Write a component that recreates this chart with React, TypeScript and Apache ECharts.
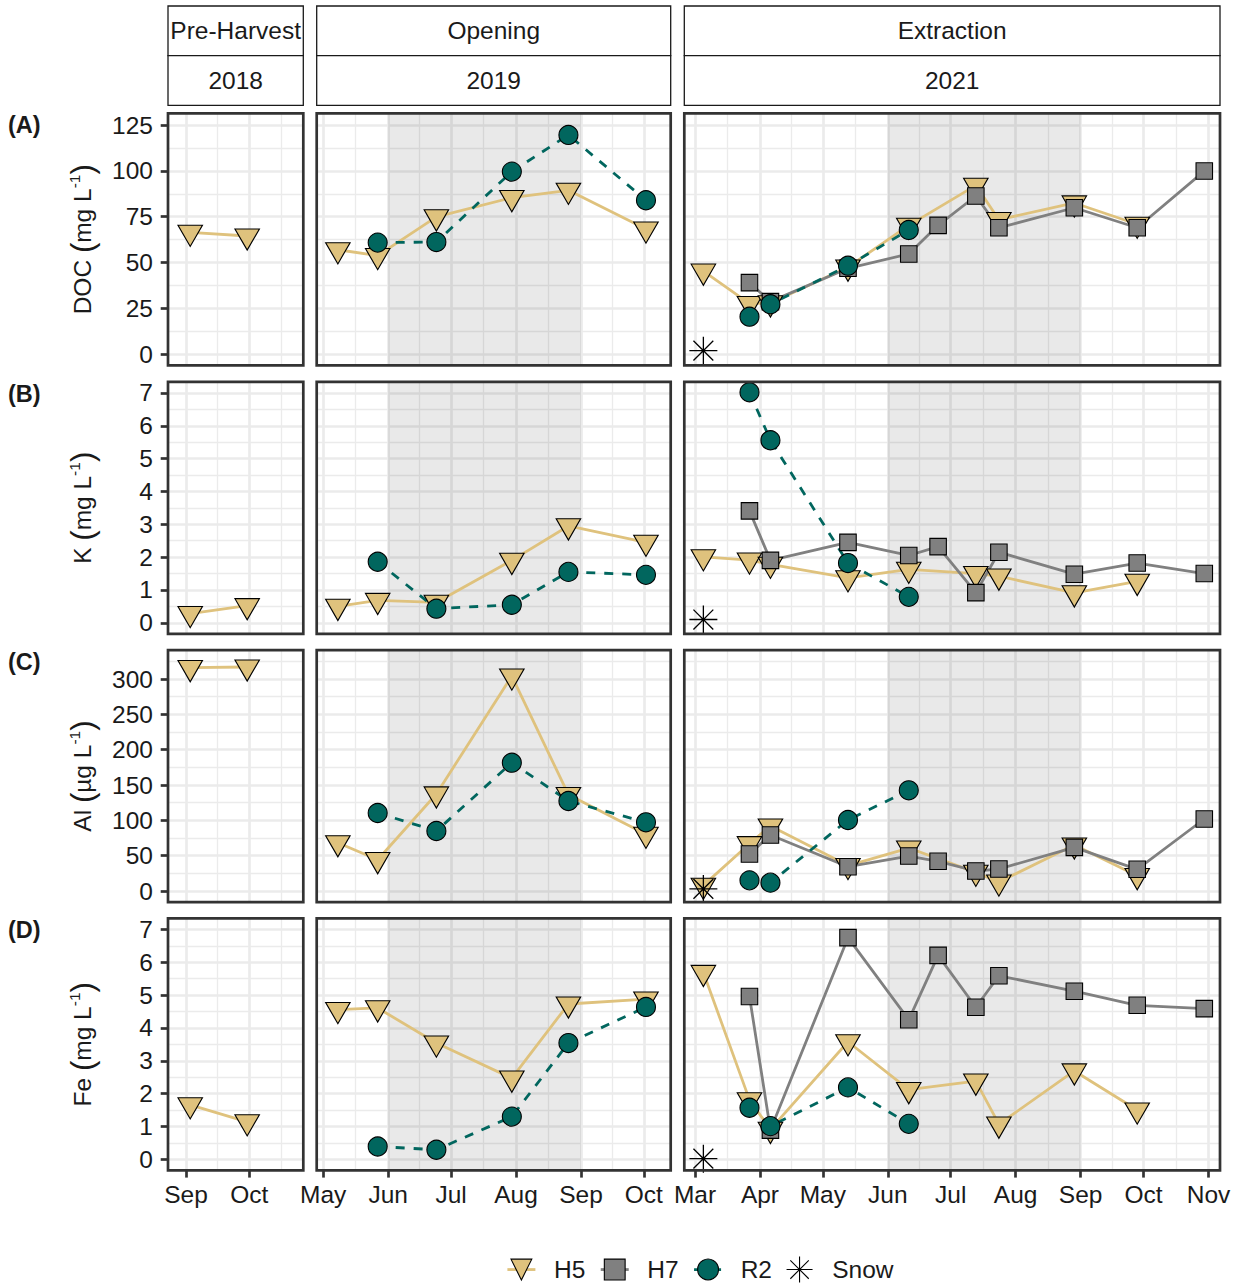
import React, { useEffect, useRef } from 'react';
import * as echarts from 'echarts';

const FONT = '"Liberation Sans", Arial, Helvetica, sans-serif';
const FONT_SIZE = 24.5;
const TEXT_COLOR = '#1a1a1a';
const H5_COLOR = '#DFC27D';
const H7_COLOR = '#808080';
const R2_COLOR = '#01665E';
const GRID_COLOR = '#ebebeb';
const FRAME_COLOR = '#333333';

const MONTH_ABBR = ['Jan', 'Feb', 'Mar', 'Apr', 'May', 'Jun', 'Jul', 'Aug', 'Sep', 'Oct', 'Nov', 'Dec'];

// Facet strip labels and row tags
const phaseLabels = ['Pre-Harvest', 'Opening', 'Extraction'];
const yearLabels = ['2018', '2019', '2021'];
const panelTags = ['(A)', '(B)', '(C)', '(D)'];
const analyteNames = ['DOC', 'K', 'Al', 'Fe'];
const analyteUnits = ['mg', 'mg', 'µg', 'mg'];
const legendNames = ['H5', 'H7', 'R2', 'Snow'];

// Y tick labels per row
const docTicks = [0, 25, 50, 75, 100, 125];
const kTicks = [0, 1, 2, 3, 4, 5, 6, 7];
const alTicks = [0, 50, 100, 150, 200, 250, 300];
const feTicks = [0, 1, 2, 3, 4, 5, 6, 7];

// Month breaks on the x axes
const monthBreaks2018 = ['2018-09-01', '2018-10-01'];
const monthBreaks2019 = ['2019-05-01', '2019-06-01', '2019-07-01', '2019-08-01', '2019-09-01', '2019-10-01'];
const monthBreaks2021 = ['2021-03-01', '2021-04-01', '2021-05-01', '2021-06-01', '2021-07-01', '2021-08-01', '2021-09-01', '2021-10-01', '2021-11-01'];

// Shaded summer window
const summerWindow2019 = ['2019-06-01', '2019-09-01'];
const summerWindow2021 = ['2021-06-01', '2021-09-01'];

// Sampling dates
const datesH5_2018 = ['2018-09-03', '2018-09-30'];
const datesH5_2019 = ['2019-05-08', '2019-05-27', '2019-06-24', '2019-07-30', '2019-08-26', '2019-10-02'];
const datesR2_2019 = ['2019-05-27', '2019-06-24', '2019-07-30', '2019-08-26', '2019-10-02'];
const datesH5_2021 = ['2021-03-05', '2021-03-27', '2021-04-06', '2021-05-13', '2021-06-11', '2021-07-13', '2021-07-24', '2021-08-29', '2021-09-28'];
const datesH7_2021 = ['2021-03-27', '2021-04-06', '2021-05-13', '2021-06-11', '2021-06-25', '2021-07-13', '2021-07-24', '2021-08-29', '2021-09-28', '2021-10-30'];
const datesR2_2021 = ['2021-03-27', '2021-04-06', '2021-05-13', '2021-06-11'];
const datesSnow_2021 = ['2021-03-05'];

// DOC (mg/L)
const docH5_2018 = [66.5, 64.5];
const docH5_2019 = [57.0, 53.8, 74.9, 85.4, 89.4, 68.3];
const docR2_2019 = [60.9, 61.2, 99.6, 119.6, 84.0];
const docH5_2021 = [45.3, 27.6, 28.0, 47.5, 70.3, 92.1, 73.4, 82.5, 70.9];
const docH7_2021 = [39.1, 28.7, 46.9, 54.7, 70.3, 86.3, 69.0, 79.9, 69.0, 99.9];
const docR2_2021 = [20.5, 27.3, 48.3, 67.8];
const docSnow_2021 = [2];

// K (mg/L)
const kH5_2018 = [0.28, 0.52];
const kH5_2019 = [0.5, 0.68, 0.62, 1.9, 2.95, 2.45];
const kR2_2019 = [1.86, 0.43, 0.55, 1.55, 1.46];
const kH5_2021 = [2.01, 1.91, 1.78, 1.37, 1.63, 1.5, 1.42, 0.91, 1.26];
const kH7_2021 = [3.41, 1.9, 2.45, 2.05, 2.32, 0.92, 2.15, 1.48, 1.82, 1.5];
const kR2_2021 = [7.02, 5.56, 1.82, 0.79];
const kSnow_2021 = [0.1];

// Al (µg/L)
const alH5_2018 = [316, 317];
const alH5_2019 = [68.3, 44.3, 137.3, 304.2, 136.3, 80.2];
const alR2_2019 = [110.4, 84.9, 181.6, 127.4, 97.2];
const alH5_2021 = [8, 66.9, 92.0, 36, 60.8, 26.4, 12.7, 65.1, 21.7];
const alH7_2021 = [52.4, 79.2, 34.4, 49.5, 42.0, 28.3, 31.1, 61.8, 30.7, 101.9];
const alR2_2021 = [15.1, 11.8, 100.5, 142.5];
const alSnow_2021 = [3];

// Fe (mg/L)
const feH5_2018 = [1.66, 1.14];
const feH5_2019 = [4.56, 4.61, 3.54, 2.47, 4.73, 4.88];
const feR2_2019 = [0.39, 0.29, 1.3, 3.54, 4.64];
const feH5_2021 = [5.69, 1.81, 0.91, 3.58, 2.12, 2.38, 1.07, 2.69, 1.5];
const feH7_2021 = [4.96, 0.89, 6.75, 4.25, 6.21, 4.63, 5.59, 5.12, 4.69, 4.59];
const feR2_2021 = [1.57, 1.01, 2.19, 1.08];
const feSnow_2021 = [0.02];

type Site = 'H5' | 'H7' | 'R2' | 'Snow';

const colDates: Partial<Record<Site, string[]>>[] = [
  { H5: datesH5_2018 },
  { H5: datesH5_2019, R2: datesR2_2019 },
  { H5: datesH5_2021, H7: datesH7_2021, R2: datesR2_2021, Snow: datesSnow_2021 },
];

const rowValues: Partial<Record<Site, number[]>>[][] = [
  [{ H5: docH5_2018 }, { H5: docH5_2019, R2: docR2_2019 }, { H5: docH5_2021, H7: docH7_2021, R2: docR2_2021, Snow: docSnow_2021 }],
  [{ H5: kH5_2018 }, { H5: kH5_2019, R2: kR2_2019 }, { H5: kH5_2021, H7: kH7_2021, R2: kR2_2021, Snow: kSnow_2021 }],
  [{ H5: alH5_2018 }, { H5: alH5_2019, R2: alR2_2019 }, { H5: alH5_2021, H7: alH7_2021, R2: alR2_2021, Snow: alSnow_2021 }],
  [{ H5: feH5_2018 }, { H5: feH5_2019, R2: feR2_2019 }, { H5: feH5_2021, H7: feH7_2021, R2: feR2_2021, Snow: feSnow_2021 }],
];
const rowTicks = [docTicks, kTicks, alTicks, feTicks];
const colMonths = [monthBreaks2018, monthBreaks2019, monthBreaks2021];
const colShade = [null, summerWindow2019, summerWindow2021];

// Panel layout
const ROW_TOPS = [113.3, 381.8, 650.1, 918.3];
const PANEL_H = 252;
const ROW_Y_RANGE = [
  [-6.0, 131.4],
  [-0.335, 7.34],
  [-15.7, 340.9],
  [-0.335, 7.34],
];
const COL_LAYOUT = [
  { left: 168, width: 135.3, anchor: '2018-09-01', span: [-8.53, 55.6] },
  { left: 316.7, width: 354, anchor: '2019-05-01', span: [-3.1, 165.8] },
  { left: 684.3, width: 535.7, anchor: '2021-03-01', span: [-5.1, 250.5] },
];

const DAY = 86400000;
const toTime = (s: string) => {
  const [y, m, d] = s.split('-').map(Number);
  return Date.UTC(y, m - 1, d);
};

const TRIANGLE_DOWN = 'path://M0,0L24,0L12,20.8Z';
const ASTERISK = 'path://M12,0L12,24M0,12L24,12M3.5,3.5L20.5,20.5M3.5,20.5L20.5,3.5';

const siteStyle: Record<Site, any> = {
  H5: { symbol: TRIANGLE_DOWN, size: [24.5, 21.2], offset: [0, 3.5], color: H5_COLOR, line: { color: H5_COLOR, width: 2.8, type: 'solid' } },
  H7: { symbol: 'rect', size: 16.5, offset: [0, 0], color: H7_COLOR, line: { color: H7_COLOR, width: 2.8, type: 'solid' } },
  R2: { symbol: 'circle', size: 19, offset: [0, 0], color: R2_COLOR, line: { color: R2_COLOR, width: 2.8, type: [9, 9] } },
  Snow: { symbol: ASTERISK, size: 28, offset: [0, 0], color: '#000', line: null },
};

// midpoints between breaks, extended one step past each end (ggplot-style minor breaks)
function minorBreaks(b: number[], lo: number, hi: number) {
  const step = b[1] - b[0];
  const ext = [b[0] - step, ...b, b[b.length - 1] + step];
  const out: number[] = [];
  for (let i = 0; i < ext.length - 1; i++) {
    const m = (ext[i] + ext[i + 1]) / 2;
    if (m > lo && m < hi) out.push(m);
  }
  return out;
}

function buildOption() {
  const grids: any[] = [];
  const xAxes: any[] = [];
  const yAxes: any[] = [];
  const frameSeries: any[] = [];
  const lineSeries: any[] = [];
  const pointSeries: any[] = [];
  const graphic: any[] = [];

  rowValues.forEach((rowCols, r) => {
    const [yMin, yMax] = ROW_Y_RANGE[r];
    const ticks = rowTicks[r];
    rowCols.forEach((vals, c) => {
      const g = r * 3 + c;
      const col = COL_LAYOUT[c];
      const anchor = toTime(col.anchor);
      const xMin = anchor + col.span[0] * DAY;
      const xMax = anchor + col.span[1] * DAY;
      const majors = colMonths[c].map(toTime);

      grids.push({
        left: col.left, top: ROW_TOPS[r], width: col.width, height: PANEL_H,
        show: true, backgroundColor: 'transparent', borderColor: FRAME_COLOR, borderWidth: 2.7,
        containLabel: false, outerBoundsMode: 'none', z: 10,
      });
      xAxes.push({
        type: 'value', gridIndex: g, min: xMin, max: xMax,
        splitLine: { show: false },
        axisLine: { show: false, onZero: false },
        axisTick: { show: r === 3, customValues: majors, length: 7.3, lineStyle: { color: FRAME_COLOR, width: 2.7 } },
        axisLabel: {
          show: r === 3, customValues: majors, margin: 12,
          formatter: (v: number) => MONTH_ABBR[new Date(v).getUTCMonth()],
          fontSize: FONT_SIZE, fontFamily: FONT, color: TEXT_COLOR,
        },
      });
      yAxes.push({
        type: 'value', gridIndex: g, min: yMin, max: yMax,
        splitLine: { show: false },
        axisLine: { show: false, onZero: false },
        axisTick: { show: c === 0, customValues: ticks, length: 7.3, lineStyle: { color: FRAME_COLOR, width: 2.7 } },
        axisLabel: { show: c === 0, customValues: ticks, margin: 15, fontSize: FONT_SIZE, fontFamily: FONT, color: TEXT_COLOR },
      });

      // panel grid lines and shaded window
      const gl = (w: number) => ({ color: GRID_COLOR, width: w, type: 'solid', opacity: 1 });
      const lines: any[] = [];
      minorBreaks(majors, xMin, xMax).forEach((v) => lines.push({ xAxis: v, lineStyle: gl(1.35) }));
      minorBreaks(ticks, yMin, yMax).forEach((v) => lines.push({ yAxis: v, lineStyle: gl(1.35) }));
      majors.forEach((v) => lines.push({ xAxis: v, lineStyle: gl(2.7) }));
      ticks.forEach((v) => lines.push({ yAxis: v, lineStyle: gl(2.7) }));
      const shade = colShade[c];
      frameSeries.push({
        type: 'line', name: 'frame' + g, xAxisIndex: g, yAxisIndex: g, data: [], silent: true, z: 1,
        markLine: {
          silent: true, z: 1, symbol: ['none', 'none'], label: { show: false },
          emphasis: { disabled: true }, animation: false, data: lines,
        },
        markArea: shade ? {
          silent: true, z: 2, animation: false, label: { show: false },
          itemStyle: { color: 'rgba(0,0,0,0.085)' },
          emphasis: { disabled: true },
          data: [[{ xAxis: toTime(shade[0]) }, { xAxis: toTime(shade[1]) }]],
        } : undefined,
      });

      const dates = colDates[c];
      (['H5', 'H7', 'R2', 'Snow'] as Site[]).forEach((site, si) => {
        const v = vals[site];
        const d = dates[site];
        if (!v || !d) return;
        const data = d.map((s, i) => [toTime(s), v[i]]);
        const st = siteStyle[site];
        if (st.line) {
          lineSeries.push({
            type: 'line', name: site, xAxisIndex: g, yAxisIndex: g, data,
            showSymbol: false, symbol: st.symbol, symbolSize: st.size,
            itemStyle: { color: st.color, borderColor: '#000', borderWidth: 1.1 },
            lineStyle: st.line, silent: true, z: 3,
            emphasis: { disabled: true },
          });
        }
        pointSeries.push({
          type: 'scatter', name: site, xAxisIndex: g, yAxisIndex: g, data,
          symbol: st.symbol, symbolSize: st.size, symbolOffset: st.offset,
          itemStyle: site === 'Snow'
            ? { color: '#000', borderColor: '#000', borderWidth: 1.3, opacity: 1 }
            : { color: st.color, borderColor: '#000', borderWidth: 1.1, opacity: 1 },
          silent: true, z: 4 + si,
          emphasis: { disabled: true },
        });
      });
    });
  });

  // facet strips
  COL_LAYOUT.forEach((col, c) => {
    const strips = [
      { y: 6, h: 49.7, label: phaseLabels[c] },
      { y: 55.7, h: 49.6, label: yearLabels[c] },
    ];
    strips.forEach((s) => {
      graphic.push({
        type: 'rect', silent: true, z: 20,
        shape: { x: col.left, y: s.y, width: col.width, height: s.h },
        style: { fill: '#ffffff', stroke: TEXT_COLOR, lineWidth: 1.3 },
      });
      graphic.push({
        type: 'text', silent: true, z: 21,
        x: col.left + col.width / 2, y: s.y + s.h / 2,
        style: {
          text: s.label, fontSize: FONT_SIZE, fontFamily: FONT, fill: TEXT_COLOR,
          align: 'center', verticalAlign: 'middle', textAlign: 'center', textVerticalAlign: 'middle',
        },
      });
    });
  });

  // row tags and y-axis titles
  ROW_TOPS.forEach((top, r) => {
    graphic.push({
      type: 'text', silent: true, z: 21, x: 8, y: top + 12,
      style: {
        text: panelTags[r], fontSize: 23.5, fontWeight: 'bold', fontFamily: FONT, fill: TEXT_COLOR,
        align: 'left', verticalAlign: 'middle', textAlign: 'left', textVerticalAlign: 'middle',
      },
    });
    graphic.push({
      type: 'text', silent: true, z: 21, x: 82, y: top + PANEL_H / 2, rotation: Math.PI / 2,
      style: {
        text: `{n|${analyteNames[r]} }{p|(}{n|${analyteUnits[r]} L}{s|-1}{p|)}`,
        fill: TEXT_COLOR, fontFamily: FONT, fontSize: FONT_SIZE,
        align: 'center', verticalAlign: 'middle', textAlign: 'center', textVerticalAlign: 'middle',
        rich: {
          n: { fontSize: FONT_SIZE, fontFamily: FONT, fill: TEXT_COLOR },
          p: { fontSize: 31, fontFamily: FONT, fill: TEXT_COLOR },
          s: { fontSize: 15.5, fontFamily: FONT, fill: TEXT_COLOR, verticalAlign: 'top' },
        },
      },
    });
  });

  return {
    animation: false,
    backgroundColor: '#ffffff',
    textStyle: { fontFamily: FONT },
    grid: grids,
    xAxis: xAxes,
    yAxis: yAxes,
    legend: {
      data: legendNames,
      left: 501, top: 1251,
      itemWidth: 28, itemHeight: 26, itemGap: 14,
      selectedMode: false,
      formatter: (name: string) => '  ' + name,
      itemStyle: { borderWidth: 1.1, borderColor: '#000' },
      lineStyle: { width: 2.8 },
      textStyle: { fontSize: FONT_SIZE, fontFamily: FONT, color: TEXT_COLOR },
    },
    graphic: { elements: graphic },
    series: [...frameSeries, ...lineSeries, ...pointSeries],
  };
}

export default function App() {
  const ref = useRef<HTMLDivElement>(null);
  useEffect(() => {
    const chart = echarts.init(ref.current!, null, { renderer: 'svg' });
    chart.setOption(buildOption() as any);
    return () => chart.dispose();
  }, []);
  return <div ref={ref} style={{ position: 'absolute', left: 0, top: 0, width: 1242, height: 1285 }} />;
}
